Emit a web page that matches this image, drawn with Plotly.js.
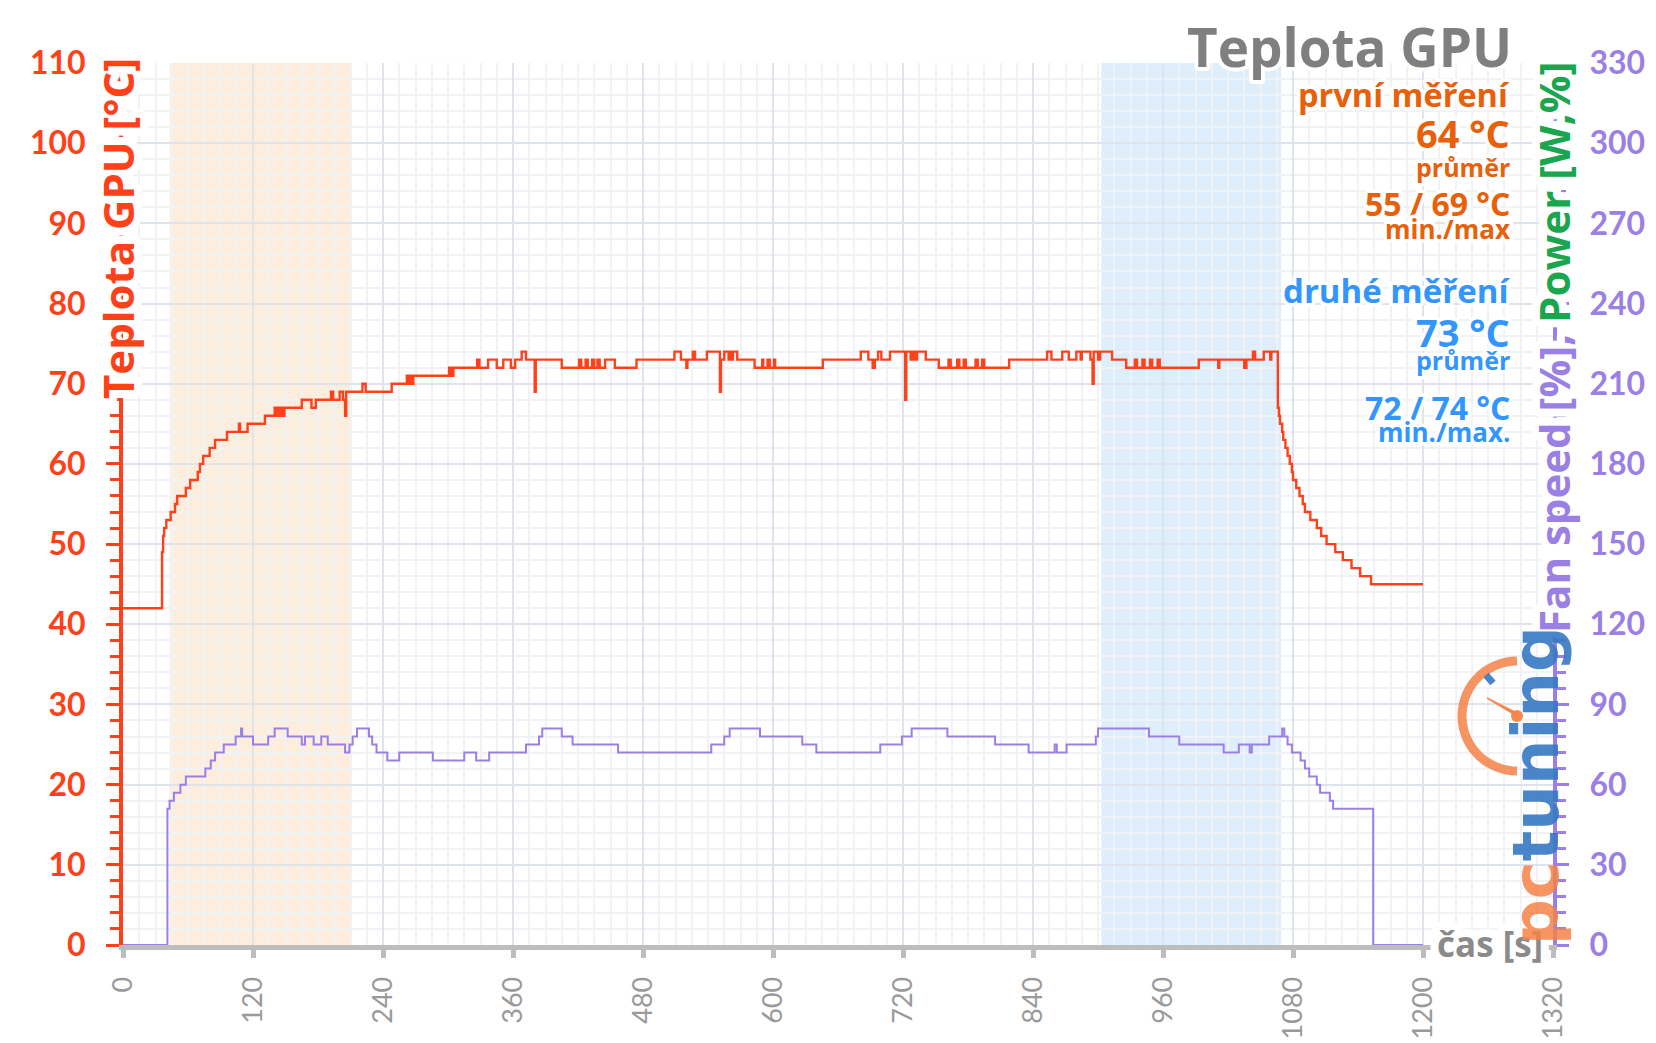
<!DOCTYPE html>
<html><head><meta charset="utf-8">
<script src="https://cdn.plot.ly/plotly-3.0.1.min.js"></script>
<style>html,body{margin:0;padding:0;background:#fff}#chart{width:1656px;height:1043px}</style>
</head><body><div id="chart"></div>
<script>
// ---------- DATA ----------
const tempTime = [0,36,37,38,40,44,48,50,58,62,69,71,74,80,85,96,107,108,115,131,140,142,143,145,146,148,149,165,174,178,192,194,200,203,205,206,221,224,248,262,263,265,266,268,301,303,305,327,329,337,345,351,358,362,368,372,380,381,405,421,423,427,429,433,435,438,440,445,454,474,509,515,520,521,526,528,539,551,552,555,559,560,562,563,567,583,590,591,595,597,601,602,646,681,688,692,694,697,700,708,722,723,727,729,731,733,741,753,762,764,770,772,776,778,787,789,793,795,818,853,857,867,873,880,884,885,893,895,896,900,902,913,926,934,936,941,943,948,950,955,957,993,1011,1012,1035,1037,1043,1045,1053,1059,1060,1066,1067,1068,1070,1071,1073,1075,1077,1079,1080,1083,1086,1089,1091,1096,1102,1106,1111,1119,1126,1134,1142,1152,1200];
const tempC    = [42,49,51,52,53,54,55,56,57,58,59,60,61,62,63,64,65,64,65,66,67,66,67,66,67,66,67,68,67,68,69,68,69,68,66,69,70,69,70,71,70,71,70,71,72,71,72,73,72,73,72,73,72,73,74,73,69,73,72,73,72,73,72,73,72,73,72,73,72,73,74,73,72,73,74,73,74,69,73,74,73,74,73,74,73,72,73,72,73,72,73,72,73,74,73,72,73,74,73,74,68,74,73,74,73,74,73,72,73,72,73,72,73,72,73,72,73,72,73,74,73,74,73,74,73,74,73,70,74,73,74,73,72,73,72,73,72,73,72,73,72,73,72,73,72,73,74,73,74,73,74,67,66,65,64,63,62,61,60,59,58,57,56,55,54,53,52,51,50,49,48,47,46,45,45];

const fanTime = [0,41,43,47,53,58,76,81,85,93,104,109,110,120,134,140,152,165,168,176,183,189,205,209,212,216,227,230,234,244,255,286,315,326,338,372,384,387,405,415,457,543,555,560,588,627,640,699,719,728,761,805,836,860,862,871,898,900,947,975,1016,1030,1040,1042,1058,1070,1072,1075,1079,1087,1091,1095,1102,1105,1114,1117,1154,1200];
const fanPct  = [0,51,54,57,60,63,66,69,72,75,78,81,78,75,78,81,78,75,78,75,78,75,72,75,78,81,78,75,72,69,72,69,72,69,72,75,78,81,78,75,72,75,78,81,78,75,72,75,78,81,78,75,72,75,72,75,78,81,78,75,72,75,72,75,78,81,78,75,72,69,66,63,60,57,54,51,0,0];

const phaseStart = [43, 903];
const phaseEnd   = [210, 1069];

const xTickVals = [0,120,240,360,480,600,720,840,960,1080,1200,1320];
const leftTickVals = [0,10,20,30,40,50,60,70,80,90,100,110];
const rightTickVals = [0,30,60,90,120,150,180,210,240,270,300,330];

const chartTitle = 'Teplota GPU';
const run1 = {name:'první měření', avg:'64 °C', minmax:'55 / 69 °C', avgLabel:'průměr', mmLabel:'min./max'};
const run2 = {name:'druhé měření', avg:'73 °C', minmax:'72 / 74 °C', avgLabel:'průměr', mmLabel:'min./max.'};

// ---------- STYLE ----------
const RED = 'rgb(255,64,25)';
const PURPLE = 'rgb(154,128,228)';
const GREEN = 'rgb(26,166,78)';
const ORANGE_T = 'rgb(232,96,10)';
const BLUE_T = 'rgb(51,150,255)';
const GRAY = '#8a8a8a';
const NUMF = 'Lato';
const TXTF = 'Open Sans';

// plot area pixel geometry (for paper conversions of decorations)
const L = 123, T = 63, W = 1430, H = 882;
const px = X => (X - L) / W;
const py = Y => (T + H - Y) / H;

const traces = [
  {x: fanTime, y: fanPct, yaxis: 'y2', type: 'scatter', mode: 'lines',
   line: {color: PURPLE, width: 2, shape: 'hv'}, hoverinfo: 'skip', cliponaxis: false},
  {x: tempTime, y: tempC, yaxis: 'y', type: 'scatter', mode: 'lines',
   line: {color: RED, width: 2.4, shape: 'hv'}, hoverinfo: 'skip', cliponaxis: false}
];

const shapes = [];
const phaseFill = ['rgba(250,200,150,0.33)', 'rgba(160,205,250,0.35)'];
phaseStart.forEach((s, i) => shapes.push({type: 'rect', xref: 'x', yref: 'paper', x0: s, x1: phaseEnd[i], y0: 0, y1: 1,
  fillcolor: phaseFill[i], line: {width: 0}, layer: 'between'}));

// pctuning logo gauge (decoration)
const gx = px(1517), gy = py(716);
let arc = '';
for (let a = 90; a <= 270; a += 6) {
  const r = a * Math.PI / 180;
  arc += (a === 90 ? 'M ' : ' L ') + (55 * Math.cos(r)).toFixed(2) + ',' + (55 * Math.sin(r)).toFixed(2);
}
shapes.push({type: 'path', xref: 'paper', yref: 'paper', xsizemode: 'pixel', ysizemode: 'pixel', xanchor: gx, yanchor: gy,
  path: arc, line: {color: 'rgba(244,130,70,0.85)', width: 9}, layer: 'above'});
shapes.push({type: 'path', xref: 'paper', yref: 'paper', xsizemode: 'pixel', ysizemode: 'pixel', xanchor: gx, yanchor: gy,
  path: 'M 0,0 L -30,18 L -2,4 Z', fillcolor: 'rgba(244,130,70,0.9)', line: {color: 'rgba(244,130,70,0.9)', width: 1.5}, layer: 'above'});
shapes.push({type: 'circle', xref: 'paper', yref: 'paper', xsizemode: 'pixel', ysizemode: 'pixel', xanchor: gx, yanchor: gy,
  x0: -6, x1: 6, y0: -6, y1: 6, fillcolor: 'rgba(244,130,70,0.95)', line: {width: 0}, layer: 'above'});
shapes.push({type: 'path', xref: 'paper', yref: 'paper', xsizemode: 'pixel', ysizemode: 'pixel', xanchor: gx, yanchor: gy,
  path: 'M -24,33 L -31,41', line: {color: 'rgba(55,120,195,0.9)', width: 7}, layer: 'above'});

const ann = [];
function rt(text, Y, size, color) {
  ann.push({text: text, xref: 'paper', yref: 'paper', x: px(1512), y: py(Y), xanchor: 'right', yanchor: 'middle',
    showarrow: false, font: {family: TXTF, size: size, color: color, weight: 700}});
}
rt(run1.name, 94, 32.5, ORANGE_T);
rt(run1.avg, 133, 38, ORANGE_T);
rt(run1.avgLabel, 167, 25, ORANGE_T);
rt(run1.minmax, 203, 32, ORANGE_T);
rt(run1.mmLabel, 229, 26, ORANGE_T);
rt(run2.name, 290, 33, BLUE_T);
rt(run2.avg, 332, 38, BLUE_T);
rt(run2.avgLabel, 360, 25, BLUE_T);
rt(run2.minmax, 407, 32, BLUE_T);
rt(run2.mmLabel, 432, 26, BLUE_T);

// axis titles (overlapping axis lines, as in the reference)
ann.push({text: 'Teplota GPU [°C]', xref: 'paper', yref: 'paper', x: px(118), y: py(229), textangle: -90,
  xanchor: 'center', yanchor: 'middle', showarrow: false,
  font: {family: TXTF, size: 42, color: RED, weight: 700}});
ann.push({text: '<span style="color:' + PURPLE + '">Fan speed [%], </span><span style="color:' + GREEN + '">Power [W,%]</span>',
  xref: 'paper', yref: 'paper', x: px(1553), y: py(348), textangle: -90, xanchor: 'center', yanchor: 'middle', showarrow: false,
  font: {family: TXTF, size: 42, color: PURPLE, weight: 700}});
ann.push({text: 'čas [s]', xref: 'paper', yref: 'paper', x: px(1490), y: py(943), xanchor: 'center', yanchor: 'middle', showarrow: false,
  font: {family: TXTF, size: 35, color: GRAY, weight: 700}});
const haloCount = ann.length;
// logo text
ann.push({text: '<span style="color:rgba(244,130,70,0.85)">pc</span><span style="color:rgba(55,120,195,0.9)">tuning</span>',
  xref: 'paper', yref: 'paper', x: px(1536), y: py(786), textangle: -90, xanchor: 'center', yanchor: 'middle', showarrow: false,
  font: {family: 'DejaVu Sans', size: 64, color: '#3778c3', weight: 700}});

const layout = {
  width: 1656, height: 1043,
  margin: {l: L, r: 1656 - L - W, t: T, b: 1043 - T - H, pad: 0},
  paper_bgcolor: '#fff', plot_bgcolor: '#fff',
  showlegend: false,
  title: {text: chartTitle, x: 1512 / 1656, xanchor: 'right', xref: 'container', y: 1 - 48 / 1043, yanchor: 'middle',
    font: {family: TXTF, size: 53, color: '#7f7f7f', weight: 700}},
  xaxis: {range: [0, 1320], tickvals: xTickVals, ticktext: xTickVals.map(String), tickangle: -90,
    tickfont: {family: NUMF, size: 27, color: '#9a9a9a'},
    showline: true, linecolor: '#bdbdbd', linewidth: 5, ticks: 'outside', ticklen: 8, tickwidth: 5, tickcolor: '#bdbdbd',
    ticklabelstandoff: 8,
    showgrid: true, gridcolor: '#dfe3eb', gridwidth: 2, zeroline: false, layer: 'below traces',
    minor: {dtick: 15, showgrid: true, gridcolor: '#f0f2f6', gridwidth: 2}},
  yaxis: {range: [0, 110], tickvals: leftTickVals, ticktext: leftTickVals.map(String),
    tickfont: {family: NUMF, size: 32, color: RED, weight: 700},
    showline: true, linecolor: RED, linewidth: 4, ticks: 'outside', ticklen: 13, tickwidth: 3, tickcolor: RED,
    ticklabelstandoff: 14,
    showgrid: true, gridcolor: '#dfe3eb', gridwidth: 2, zeroline: false,
    minor: {dtick: 2, showgrid: true, gridcolor: '#f0f2f6', gridwidth: 2, ticks: 'outside', ticklen: 9, tickwidth: 3, tickcolor: RED}},
  yaxis2: {range: [0, 330], overlaying: 'y', side: 'right', tickvals: rightTickVals, ticktext: rightTickVals.map(String),
    tickfont: {family: NUMF, size: 32, color: PURPLE, weight: 700},
    showline: true, linecolor: PURPLE, linewidth: 4, ticks: 'outside', ticklen: 12, tickwidth: 3, tickcolor: PURPLE,
    ticklabelstandoff: 14,
    showgrid: false, zeroline: false,
    minor: {dtick: 6, showgrid: false, ticks: 'outside', ticklen: 9, tickwidth: 3, tickcolor: PURPLE}},
  yaxis3: {range: [0, 110], overlaying: 'y', side: 'left', tickvals: leftTickVals, showticklabels: false,
    ticks: 'inside', ticklen: 12, tickwidth: 3, tickcolor: RED, showgrid: false, zeroline: false, showline: false},
  yaxis4: {range: [0, 330], overlaying: 'y', side: 'right', tickvals: rightTickVals, showticklabels: false,
    ticks: 'inside', ticklen: 12, tickwidth: 3, tickcolor: PURPLE, showgrid: false, zeroline: false, showline: false},
  shapes: shapes,
  annotations: ann
};

function halo(el, w) {
  el.style.stroke = '#fff';
  el.style.strokeWidth = w + 'px';
  el.style.strokeLinejoin = 'round';
  el.style.paintOrder = 'stroke fill';
}

Plotly.newPlot('chart', traces, layout, {staticPlot: true, displayModeBar: false}).then(gd => {
  gd.querySelectorAll('g.annotation').forEach(g => {
    const i = +g.getAttribute('data-index');
    if (i < haloCount) {
      const t = g.querySelector('text.annotation-text');
      if (t) halo(t, i >= haloCount - 3 ? 16 : 7);
    }
  });
  const tt = gd.querySelector('.gtitle');
  if (tt) halo(tt, 8);
});
</script></body></html>
